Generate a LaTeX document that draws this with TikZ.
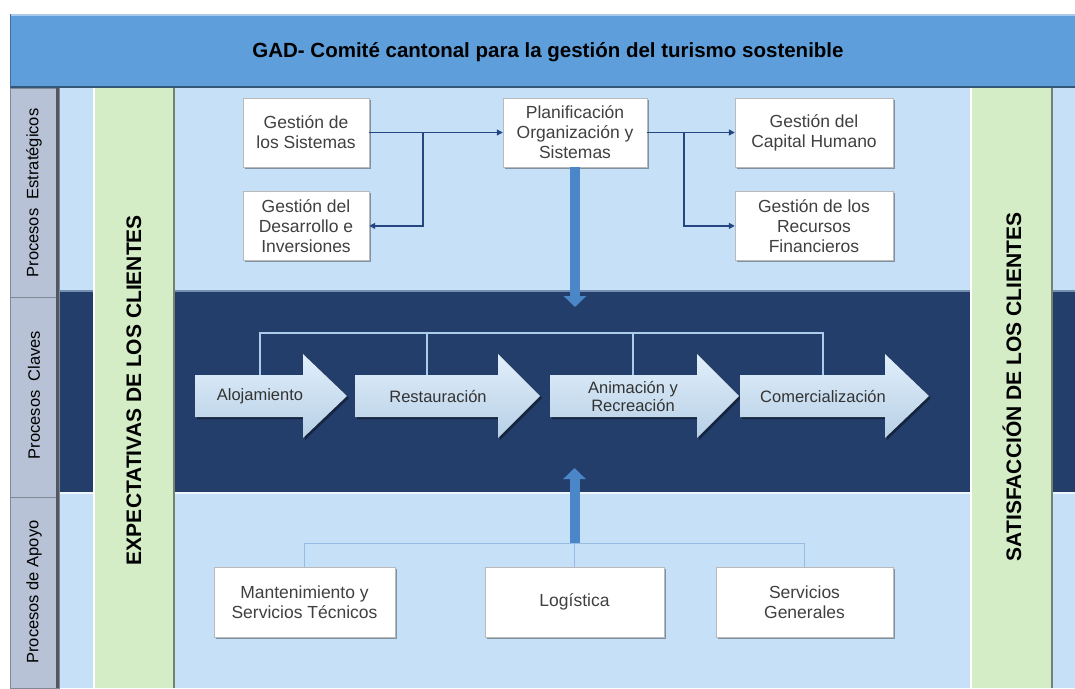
\documentclass[tikz,border=0pt]{standalone}
\usepackage{fontspec}
\setmainfont{Liberation Sans}
\usetikzlibrary{arrows.meta, positioning, shadows}

\definecolor{titleblue}{RGB}{94,158,219}
\definecolor{paleblue}{RGB}{198,224,248}
\definecolor{navyband}{RGB}{36,62,108}
\definecolor{lanegray}{RGB}{183,194,214}
\definecolor{clientgreen}{RGB}{212,237,199}
\definecolor{arrowblue}{RGB}{196,223,247}
\definecolor{linkblue}{RGB}{38,70,130}
\definecolor{bigblue}{RGB}{74,134,200}
\definecolor{stemblue}{RGB}{170,205,236}
\definecolor{supblue}{RGB}{150,188,226}

\begin{document}
\begin{tikzpicture}[x=1pt, y=-1pt,
    proc/.style={rectangle, draw=gray!55, fill=white, align=center, inner sep=0pt,
        text=black!75, font=\fontsize{17.5}{20}\selectfont,
        drop shadow={shadow xshift=2pt, shadow yshift=-2pt, fill=black, opacity=0.35}},
    keytext/.style={align=center, inner sep=0pt, minimum height=42pt,
        text=black!80, font=\fontsize{16.5}{18}\selectfont},
    keyarrow/.style={top color=arrowblue!50!white, bottom color=arrowblue!93!black,
        drop shadow={shadow xshift=2pt, shadow yshift=-2pt, fill=black, opacity=0.4}},
    lane/.style={rotate=90, font=\fontsize{16.5}{18}\selectfont},
    client/.style={rotate=90, font=\bfseries\fontsize{21}{24}\selectfont},
    link/.style={draw=linkblue, line width=1.2pt, -{Triangle[length=6pt, width=6pt]}},
    stem/.style={draw=stemblue, line width=2pt},
    supline/.style={draw=supblue, line width=1pt},
    bigarrow/.style={draw=bigblue, line width=10pt, -{Triangle[length=11pt, width=22pt]}}]

    \fill[white] (0,0) rectangle (1075,688);
    \useasboundingbox (0,0) rectangle (1075,688);

    \fill[paleblue] (59,88) rectangle (1075,688);
    \fill[navyband] (59,291) rectangle (1075,492);
    \draw[navyband!50!paleblue, line width=2pt] (59,291) -- (1075,291);
    \draw[white!70!paleblue, line width=2pt] (59,493) -- (1075,493);

    \fill[clientgreen] (93,88) rectangle (175,688);
    \draw[white, line width=1.5pt] (94,88) -- (94,688);
    \draw[black!45!clientgreen, line width=2.5pt] (174,88) -- (174,688);
    \fill[clientgreen] (970,88) rectangle (1053,688);
    \draw[white, line width=1.5pt] (971,88) -- (971,688);
    \draw[black!45!clientgreen, line width=2.5pt] (1052,88) -- (1052,688);

    \filldraw[fill=lanegray, draw=lanegray!70!black, line width=1pt] (10,88) rectangle (59,297);
    \filldraw[fill=lanegray, draw=lanegray!70!black, line width=1pt] (10,297) rectangle (59,497);
    \filldraw[fill=lanegray, draw=lanegray!70!black, line width=1pt] (10,497) rectangle (59,688);
    \draw[lanegray!45!black, line width=3pt] (57.5,88) -- (57.5,688);

    \fill[titleblue] (10,14) rectangle (1075,87);
    \draw[titleblue!55!white, line width=2pt] (10,15) -- (1075,15);
    \draw[titleblue!55!black, line width=2pt] (10,87) -- (1075,87);
    \draw[titleblue!70!black, line width=1pt] (10.5,14) -- (10.5,87);

    \node[font=\bfseries\fontsize{20.5}{24}\selectfont] (title) at (548,52)
        {GAD- Comité cantonal para la gestión del turismo sostenible};

    \node[lane] (laneE) at (34,193) {Procesos~~Estratégicos};
    \node[lane] (laneC) at (34,395) {Procesos~~Claves};
    \node[lane] (laneA) at (34,592) {Procesos de Apoyo};

    \node[client] (expect) at (134,390) {EXPECTATIVAS DE LOS CLIENTES};
    \node[client] (satis) at (1012,387) {SATISFACCIÓN DE LOS CLIENTES};

    \node[proc, minimum width=126, minimum height=69] (gs) at (306,132.5)
        {Gestión de\\los Sistemas};
    \node[proc, minimum width=126, minimum height=69, below=24pt of gs] (gdi)
        {Gestión del\\Desarrollo e\\Inversiones};
    \node[proc, minimum width=144, minimum height=69] (plan) at (575,132.5)
        {Planificación\\Organización y\\Sistemas};
    \node[proc, minimum width=158, minimum height=69] (gch) at (814,132.5)
        {Gestión del\\Capital Humano};
    \node[proc, minimum width=158, minimum height=69, below=24pt of gch] (grf)
        {Gestión de los\\Recursos\\Financieros};

    \coordinate (jl) at (423,132.5);
    \coordinate (jr) at (684,132.5);
    \draw[link] (gs) -- (plan);
    \draw[link] (jl) |- (gdi);
    \draw[link] (plan) -- (gch);
    \draw[link] (jr) |- (grf);

    \coordinate (darktop) at (0,307);
    \draw[bigarrow] (plan.south) -- (plan.south |- darktop);

    \fill[keyarrow] (195,375) -- (303,375) -- (303,354) -- (347,396) -- (303,438) -- (303,417) -- (195,417) -- cycle;
    \fill[keyarrow] (355,375) -- (498,375) -- (498,354) -- (540,396) -- (498,438) -- (498,417) -- (355,417) -- cycle;
    \fill[keyarrow] (550,375) -- (697,375) -- (697,354) -- (739,396) -- (697,438) -- (697,417) -- (550,417) -- cycle;
    \fill[keyarrow] (740,375) -- (885,375) -- (885,354) -- (929,396) -- (885,438) -- (885,417) -- (740,417) -- cycle;

    \node[keytext] (aloj) at (260,396) {Alojamiento};
    \node[keytext] (rest) at (438,396) {Restauración};
    \node[keytext] (anim) at (633,396) {Animación y\\Recreación};
    \node[keytext] (com) at (823,396) {Comercialización};

    \coordinate (stembar) at (0,333);
    \draw[stem] (aloj.north) -- (aloj.north |- stembar) -| (com.north);
    \draw[stem] ([xshift=-11pt]rest.north) -- ([xshift=-11pt]rest.north |- stembar);
    \draw[stem] (anim.north) -- (anim.north |- stembar);

    \node[proc, minimum width=181, minimum height=70] (mant) at (304.5,602)
        {Mantenimiento y\\Servicios Técnicos};
    \node[proc, minimum width=179, minimum height=70] (log) at (574.5,602)
        {Logística};
    \node[proc, minimum width=177, minimum height=70] (serv) at (804.5,602)
        {Servicios\\Generales};

    \coordinate (supbar) at (0,543);
    \coordinate (uptip) at (0,468);
    \draw[supline] (mant.north) -- (mant.north |- supbar) -| (serv.north);
    \draw[supline] (log.north) -- (log.north |- supbar);
    \draw[bigarrow] (log.north |- supbar) -- (log.north |- uptip);

\end{tikzpicture}
\end{document}
